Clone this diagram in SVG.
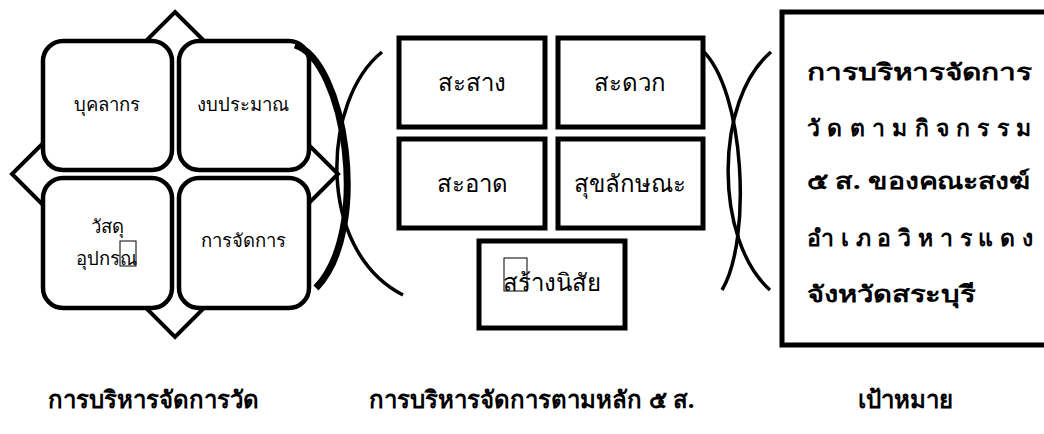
<svg xmlns="http://www.w3.org/2000/svg" width="1044" height="434" viewBox="0 0 1044 434">
<defs>
<filter id="soft" x="-10%" y="-10%" width="120%" height="120%"><feGaussianBlur stdDeviation="0.6"/></filter>
</defs>
<style>
.sq{fill:#fff;stroke:#000;stroke-width:4.5}
.bx{fill:#fff;stroke:#000;stroke-width:5}
.arc{fill:none;stroke:#000;stroke-width:3.5}
.thick{fill:none;stroke:#000;stroke-width:7}
.t1{font-family:"Noto Sans","DejaVu Sans",sans-serif;font-size:18.5px;fill:#000;text-anchor:middle}
.t2{font-family:"Noto Sans","DejaVu Sans",sans-serif;font-size:24px;fill:#000;text-anchor:middle}
.t3{font-family:"Noto Sans","DejaVu Sans",sans-serif;font-size:23px;font-weight:bold;fill:#000}
.t4{font-family:"Noto Sans","DejaVu Sans",sans-serif;font-size:24px;font-weight:bold;fill:#000;text-anchor:middle}
.tofu{fill:none;stroke:#000;stroke-width:1}
</style>
<g id="diamond"><polygon points="175,12 338,174 175,337 12,174" fill="#fff" stroke="#000" stroke-width="4"/></g>
<g id="n-personnel"><rect class="sq" x="43" y="41" width="129" height="129" rx="20" filter="url(#soft)"/><text class="t1" x="107" y="111">บุคลากร</text></g>
<g id="n-budget"><rect class="sq" x="179" y="41" width="130" height="129" rx="20" filter="url(#soft)"/><text class="t1" x="243" y="111">งบประมาณ</text></g>
<g id="n-material"><rect class="sq" x="43" y="178" width="129" height="130" rx="20" filter="url(#soft)"/><text class="t1" x="107" y="233">วัสดุ</text><text class="t1" x="106" y="265">อุปกรณ</text><rect class="tofu" x="120" y="241" width="16" height="25"/></g>
<g id="n-manage"><rect class="sq" x="179" y="178" width="130" height="130" rx="20" filter="url(#soft)"/><text class="t1" x="243" y="247">การจัดการ</text></g>
<g id="connectors">
<path class="thick" d="M295,45 C345,60 372,230 316,288"/>
<path class="arc" d="M382,52 C322,100 315,250 403,295"/>
<path class="arc" d="M702,50 C745,90 752,240 722,290"/>
<path class="arc" d="M771,52 C714,100 714,240 770,290"/>
</g>
<g id="n-sasang"><rect class="bx" x="399" y="38" width="146" height="89"/><text class="t2" x="472" y="91">สะสาง</text></g>
<g id="n-saduak"><rect class="bx" x="558" y="38" width="145" height="89"/><text class="t2" x="630" y="91">สะดวก</text></g>
<g id="n-saat"><rect class="bx" x="399" y="139" width="146" height="89"/><text class="t2" x="472" y="192">สะอาด</text></g>
<g id="n-sukhalak"><rect class="bx" x="558" y="139" width="145" height="89"/><text class="t2" x="630" y="192">สุขลักษณะ</text></g>
<g id="n-habit"><rect class="bx" x="479" y="241" width="146" height="87"/><text class="t2" x="552" y="291">สร้างนิสัย</text><rect class="tofu" x="504" y="258" width="23" height="33"/></g>
<g id="n-goal"><rect class="bx" x="782" y="12" width="300" height="333"/>
<text class="t3" x="807" y="80" textLength="225" lengthAdjust="spacingAndGlyphs">การบริหารจัดการ</text>
<text class="t3" x="807" y="136" textLength="224" lengthAdjust="spacing">วัดตามกิจกรรม</text>
<text class="t3" x="807" y="189" textLength="223" lengthAdjust="spacingAndGlyphs">๕ ส. ของคณะสงฆ์</text>
<text class="t3" x="807" y="246" textLength="226" lengthAdjust="spacing">อำเภอวิหารแดง</text>
<text class="t3" x="807" y="302" textLength="168" lengthAdjust="spacingAndGlyphs">จังหวัดสระบุรี</text>
</g>
<g id="labels">
<text class="t4" x="153" y="408">การบริหารจัดการวัด</text>
<text class="t4" x="532" y="408">การบริหารจัดการตามหลัก ๕ ส.</text>
<text class="t4" x="905" y="408">เป้าหมาย</text>
</g>
</svg>
